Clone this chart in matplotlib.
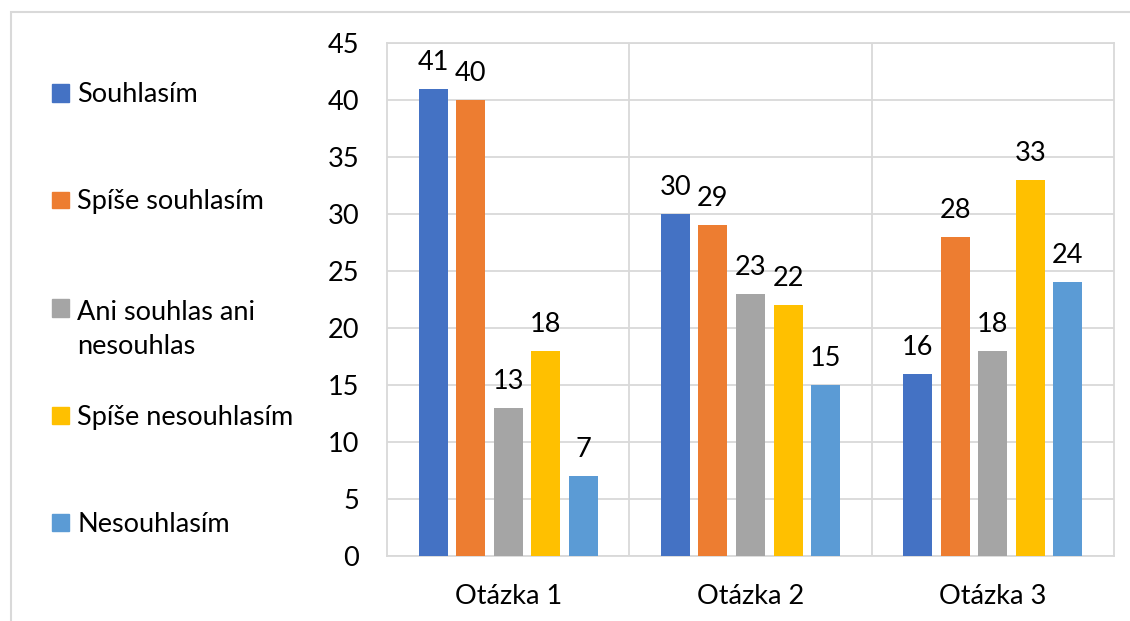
import matplotlib
matplotlib.use("Agg")
import matplotlib.pyplot as plt
from matplotlib.patches import Rectangle
import numpy as np

categories = ["Otázka 1", "Otázka 2", "Otázka 3"]
series_names = ["Souhlasím", "Spíše souhlasím", "Ani souhlas ani\nnesouhlas",
                "Spíše nesouhlasím", "Nesouhlasím"]
souhlasim = [41, 30, 16]
spise_souhlasim = [40, 29, 28]
ani = [13, 23, 18]
spise_nesouhlasim = [18, 22, 33]
nesouhlasim = [7, 15, 24]
yticks = [0, 5, 10, 15, 20, 25, 30, 35, 40, 45]

series = [souhlasim, spise_souhlasim, ani, spise_nesouhlasim, nesouhlasim]
colors = ["#4472C4", "#ED7D31", "#A5A5A5", "#FFC000", "#5B9BD5"]
grid_c = "#D9D9D9"

plt.rcParams['font.family'] = ['Lato', 'DejaVu Sans']
FS = 19.5

W, H = 1130, 621
fig = plt.figure(figsize=(W / 100, H / 100), dpi=100)

def fx(px):
    return px / W

def fy(py):
    return 1 - py / H

ax = fig.add_axes([fx(387), fy(556), fx(1114) - fx(387), fy(43) - fy(556)])

x = np.arange(len(categories))
step = 37.5 / 242
width = 29 / 242
for i, (vals, c) in enumerate(zip(series, colors)):
    pos = x + (i - 2) * step
    bars = ax.bar(pos, vals, width=width, color=c, zorder=3)
    for b, v in zip(bars, vals):
        ax.annotate(str(v), (b.get_x() + b.get_width() / 2, v),
                    xytext=(0, 19), textcoords='offset pixels',
                    ha='center', va='baseline', fontsize=FS, color='black')

ax.set_xlim(-0.5, 2.5)
ax.set_ylim(0, 45)
ax.set_yticks(yticks)
ax.set_xticks(x)
ax.set_xticklabels(categories, fontsize=FS)
ax.tick_params(axis='both', length=0, labelsize=FS)
ax.tick_params(axis='y', pad=20)
ax.tick_params(axis='x', pad=20)
ax.grid(axis='y', color=grid_c, linewidth=1.3, zorder=0)
for xv in [0.5, 1.5]:
    ax.axvline(xv, color=grid_c, linewidth=1.3, zorder=0)
for s in ax.spines.values():
    s.set_color(grid_c)
    s.set_linewidth(1.3)

# legend drawn manually
leg_y = [93, 200, 308, 415, 522]
line_gap = 37
for name, c, yc in zip(series_names, colors, leg_y):
    fig.patches.append(Rectangle((fx(52), fy(yc + 8.5)), fx(17), fy(yc - 8.5) - fy(yc + 8.5),
                                 transform=fig.transFigure, color=c))
    nlines = name.count("\n")
    fig.text(fx(77), fy(yc + 9.5 + nlines * line_gap), name, fontsize=FS,
             ha='left', va='baseline', linespacing=1.5)

# outer chart border (left and top visible)
fig.patches.append(Rectangle((fx(11), fy(700)), fx(1300), fy(12) - fy(700),
                             transform=fig.transFigure, fill=False,
                             edgecolor=grid_c, linewidth=1.5))

fig.savefig("out.png", dpi=100)
